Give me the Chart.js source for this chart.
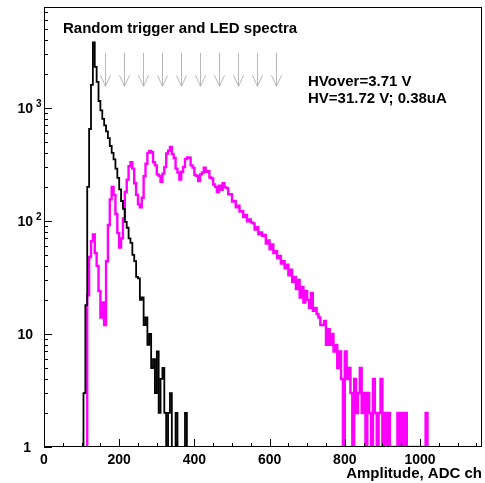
<!DOCTYPE html>
<html>
<head>
<meta charset="utf-8">
<script src="https://cdn.jsdelivr.net/npm/chart.js@4/dist/chart.umd.min.js"></script>
<style>
  body { margin: 0; background: #fff; }
</style>
</head>
<body>
<canvas id="myChart" width="485" height="483"></canvas>
<script>
// spectra, 5 ADC channels per bin
var binWidth = 5;

// random trigger (black), first bin starts at 105
var randomStart = 105;
var randomCounts = [
    1, 3, 18, 200, 650, 1600, 3800, 2300, 1700, 1150,
    950, 800, 700, 620, 540, 460, 400, 350, 290, 240,
    190, 150, 128, 98, 87, 70, 64, 50, 44, 32,
    31, 20, 21, 12, 14, 8, 10, 5, 6, 3,
    7, 2, 4, 5, 2, 1, 2, 3, 1, 1,
    2, 1, 1, 1, 1, 2, 1, 1
];

// LED (magenta), first bin starts at 115
var ledStart = 115;
var ledCounts = [
    1, 22, 48, 66, 76, 52, 40, 24, 14, 19,
    12, 44, 92, 155, 200, 170, 115, 78, 58, 70,
    105, 180, 232, 305, 330, 290, 215, 170, 140, 132,
    160, 248, 320, 400, 415, 405, 330, 310, 258, 250,
    222, 262, 300, 395, 418, 450, 390, 360, 290, 268,
    232, 272, 300, 352, 365, 362, 310, 296, 255, 250,
    225, 258, 268, 295, 272, 275, 242, 238, 210, 200,
    180, 205, 188, 215, 198, 195, 172, 172, 148, 150,
    132, 136, 121, 122, 108, 113, 99, 103, 97, 95,
    84, 88, 76, 79, 74, 75, 63, 67, 56, 62,
    52, 54, 47, 49, 42, 44, 38, 41, 33, 37,
    29, 32, 25, 30, 21, 26, 19, 24, 20, 17,
    23, 16, 17, 15, 14, 12, 12, 13, 8, 11,
    8, 10, 7, 8, 5, 7, 4, 1, 7, 4,
    5, 3, 1, 4, 2, 3, 5, 2, 3, 1,
    3, 2, 1, 4, 2, 1, 2, 4, 1, 2,
    1, 2, 1, 1, 1, 1, 2, 1, 2, 1,
    2, 1, 1, 1, 1, 1, 1, 1, 1, 1,
    1, 2, 1
];

// grey arrows above the peaks (channel, counts at top and tip)
var arrowChannels = [162, 213, 263, 314, 365, 415, 466, 516, 567, 618];
var arrowTop = 3070;
var arrowTip = 1550;

// axis labels
var xTickValues = [0, 200, 400, 600, 800, 1000];
var yDecades = [1, 10, 100, 1000];
var yLabelBase = ['1', '10', '10', '10'];
var yLabelExp = ['', '', '2', '3'];
var xMax = 1165;
var yMax = 7800;

var titleText = 'Random trigger and LED spectra';
var infoLines = ['HVover=3.71 V', 'HV=31.72 V; 0.38uA'];
var xTitle = 'Amplitude, ADC ch';

var font = '"Liberation Sans", Arial, Helvetica, sans-serif';

function toPoints(start, counts) {
    return counts.map(function(c, i) {
        return {x: start + i * binWidth, y: c};
    });
}

// ROOT-like frame, inside ticks, labels and arrows
var rootStyle = {
    id: 'rootStyle',
    afterDraw: function(chart) {
        var ctx = chart.ctx;
        var a = chart.chartArea;
        var xs = chart.scales.x;
        var ys = chart.scales.y;
        ctx.save();

        ctx.strokeStyle = '#b8b8b8';
        ctx.lineWidth = 1;
        var y0 = ys.getPixelForValue(arrowTop);
        var y1 = ys.getPixelForValue(arrowTip);
        arrowChannels.forEach(function(ch) {
            var x = Math.round(xs.getPixelForValue(ch)) + 0.5;
            ctx.beginPath();
            ctx.moveTo(x, y0);
            ctx.lineTo(x, y1);
            ctx.moveTo(x - 5, y1 - 11);
            ctx.lineTo(x, y1);
            ctx.lineTo(x + 5, y1 - 11);
            ctx.stroke();
        });

        ctx.strokeStyle = '#000';
        ctx.strokeRect(a.left + 0.5, a.top + 0.5, a.right - a.left - 1, a.bottom - a.top - 1);

        ctx.beginPath();
        for (var d = 0; d < yDecades.length; d++) {
            for (var m = 1; m <= 9; m++) {
                var v = m * yDecades[d];
                if (v > yMax) break;
                var py = Math.round(ys.getPixelForValue(v)) + 0.5;
                ctx.moveTo(a.left, py);
                ctx.lineTo(a.left + (m == 1 ? 8 : 4), py);
            }
        }
        for (var c = 0; c <= xMax; c += 50) {
            var px = Math.round(xs.getPixelForValue(c)) + 0.5;
            ctx.moveTo(px, a.bottom);
            ctx.lineTo(px, a.bottom - (c % 200 == 0 ? 8 : 4));
        }
        ctx.stroke();

        ctx.fillStyle = '#000';
        for (var i = 0; i < yDecades.length; i++) {
            var ty = ys.getPixelForValue(yDecades[i]);
            ctx.font = 'bold 14px ' + font;
            ctx.textAlign = 'right';
            ctx.fillText(yLabelBase[i], yLabelExp[i] || i == 1 ? 33 : 31, ty + 5);
            if (yLabelExp[i]) {
                ctx.font = 'bold 10px ' + font;
                ctx.textAlign = 'left';
                ctx.fillText(yLabelExp[i], 36, ty - 1);
            }
        }

        ctx.font = 'bold 15px ' + font;
        ctx.textAlign = 'left';
        ctx.fillText(titleText, 63, 33);
        ctx.fillText(infoLines[0], 308, 86);
        ctx.fillText(infoLines[1], 308, 103);
        ctx.restore();
    }
};

var ctx = document.getElementById('myChart').getContext('2d');
var chart = new Chart(ctx, {
    type: 'line',
    data: {
        datasets: [{
            label: 'Random trigger',
            data: toPoints(randomStart, randomCounts),
            borderColor: '#000',
            borderWidth: 1.8,
            stepped: 'after',
            order: 0
        }, {
            label: 'LED',
            data: toPoints(ledStart, ledCounts),
            borderColor: '#ff00ff',
            borderWidth: 2.4,
            stepped: 'after',
            order: 1
        }]
    },
    options: {
        responsive: false,
        animation: false,
        devicePixelRatio: 1,
        layout: {padding: {top: 7, right: 3, left: 0, bottom: 0}},
        elements: {point: {radius: 0}},
        plugins: {legend: {display: false}, tooltip: {enabled: false}},
        scales: {
            x: {
                type: 'linear',
                min: 0,
                max: xMax,
                grid: {display: false, drawTicks: false},
                border: {display: false},
                afterBuildTicks: function(s) {
                    s.ticks = xTickValues.map(function(v) { return {value: v}; });
                },
                ticks: {
                    autoSkip: false,
                    maxRotation: 0,
                    padding: 5,
                    color: '#000',
                    font: {family: font, size: 14, weight: 'bold'},
                    callback: function(v) { return String(v); }
                },
                title: {
                    display: true,
                    text: xTitle,
                    align: 'end',
                    color: '#000',
                    font: {family: font, size: 15, weight: 'bold'},
                    padding: {top: 0, bottom: 0}
                },
                afterFit: function(s) { s.height = 36; }
            },
            y: {
                type: 'logarithmic',
                min: 1,
                max: yMax,
                grid: {display: false, drawTicks: false},
                border: {display: false},
                ticks: {display: false},
                afterFit: function(s) { s.width = 44; }
            }
        }
    },
    plugins: [rootStyle]
});
</script>
</body>
</html>
